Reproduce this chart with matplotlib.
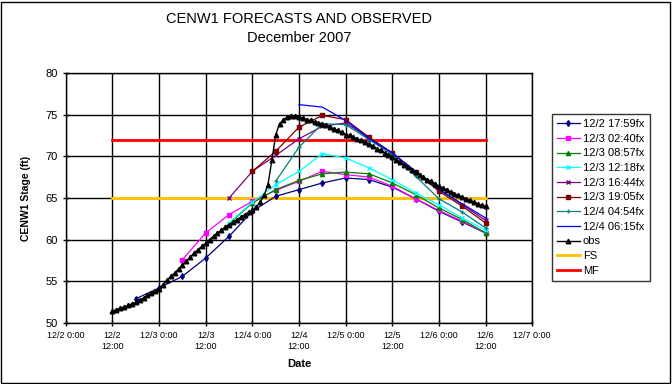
import matplotlib
matplotlib.use("Agg")
import matplotlib.pyplot as plt

plt.rcParams['font.family'] = ['Liberation Sans', 'DejaVu Sans']

# hours since 12/2 0:00
tick_hours = [0, 12, 24, 36, 48, 60, 72, 84, 96, 108, 120]
tick_labels = ["12/2 0:00", "12/2\n12:00", "12/3 0:00", "12/3\n12:00", "12/4 0:00",
               "12/4\n12:00", "12/5 0:00", "12/5\n12:00", "12/6 0:00", "12/6\n12:00", "12/7 0:00"]

# observed stage, hourly from 12/2 12:00 to 12/6 12:00
obs_start = 12
obs = [51.4, 51.6, 51.8, 51.9, 52.1, 52.3, 52.5, 52.7, 53.0, 53.3, 53.6, 53.8,
       54.1, 54.6, 55.1, 55.6, 56.0, 56.5, 56.9, 57.4, 57.9, 58.4, 58.8, 59.2,
       59.6, 60.0, 60.4, 60.8, 61.1, 61.5, 61.8, 62.1, 62.4, 62.7, 63.0, 63.3,
       63.5, 63.9, 64.5, 65.3, 66.6, 69.5, 72.6, 73.9, 74.4, 74.7, 74.8, 74.8,
       74.7, 74.6, 74.4, 74.3, 74.1, 74.0, 73.9, 73.7, 73.5, 73.3, 73.1, 72.9,
       72.6, 72.5, 72.3, 72.1, 71.9, 71.7, 71.5, 71.2, 70.9, 70.7, 70.4, 70.2,
       69.9, 69.6, 69.3, 69.0, 68.7, 68.4, 68.1, 67.8, 67.5, 67.2, 67.0, 66.7,
       66.4, 66.2, 66.0, 65.7, 65.5, 65.3, 65.1, 64.9, 64.7, 64.5, 64.3, 64.1,
       64.0]

# forecasts, 6-hourly; first value at the given hour
fx_names = ["12/2 17:59fx", "12/3 02:40fx", "12/3 08:57fx", "12/3 12:18fx",
            "12/3 16:44fx", "12/3 19:05fx", "12/4 04:54fx", "12/4 06:15fx"]
fx_start = [18, 30, 36, 42, 42, 48, 54, 60]
fx_vals = [
    [52.9, 54.2, 55.6, 57.8, 60.4, 63.4, 65.2, 66.0, 66.8, 67.4, 67.2, 66.3, 64.9, 63.4, 62.1, 60.8],
    [57.6, 60.8, 63.0, 64.6, 65.9, 67.0, 68.2, 67.8, 67.5, 66.4, 64.9, 63.5, 62.2, 60.8],
    [59.6, 61.9, 64.4, 66.0, 67.1, 67.9, 68.1, 67.9, 66.8, 65.4, 63.8, 62.4, 60.8],
    [62.0, 64.5, 66.6, 68.2, 70.3, 69.8, 68.6, 67.2, 65.6, 64.2, 62.6, 61.1],
    [65.0, 68.2, 70.1, 72.1, 73.6, 74.0, 72.2, 70.4, 68.1, 66.0, 64.2, 62.3],
    [68.2, 70.6, 73.5, 74.9, 74.4, 72.3, 70.4, 68.1, 65.8, 64.0, 62.0],
    [67.0, 71.1, 73.9, 73.8, 72.0, 70.2, 67.6, 64.9, 63.3, 61.4],
    [76.2, 75.9, 74.3, 72.1, 70.4, 68.2, 66.0, 64.3, 62.6],
]
fx_colors = ["#000080", "#FF00FF", "#008000", "#00FFFF", "#800080", "#800000", "#008080", "#0000FF"]
fx_markers = ["d", "s", "^", "x", "x", "s", "+", ""]

fs_level = 65
mf_level = 72
level_span = [12, 108]

fig = plt.figure(figsize=(6.72, 3.84), dpi=100)
ax = fig.add_axes([0.098, 0.159, 0.694, 0.651])

for name, start, vals, c, m in zip(fx_names, fx_start, fx_vals, fx_colors, fx_markers):
    hrs = [start + 6 * i for i in range(len(vals))]
    ax.plot(hrs, vals, color=c, marker=m, markersize=3, linewidth=0.9, label=name,
            markeredgewidth=1.0, zorder=3)

obs_hrs = [obs_start + i for i in range(len(obs))]
ax.plot(obs_hrs, obs, color="black", marker="^", markersize=3.3, linewidth=1.0, label="obs", zorder=4)

ax.plot(level_span, [fs_level, fs_level], color="#FFC000", linewidth=2, label="FS", zorder=2)
ax.plot(level_span, [mf_level, mf_level], color="#FF0000", linewidth=2, label="MF", zorder=2)

ax.set_xlim(0, 120)
ax.set_ylim(50, 80)
ax.set_xticks(tick_hours)
ax.set_xticklabels(tick_labels, fontsize=6.5)
ax.set_yticks([50, 55, 60, 65, 70, 75, 80])
ax.tick_params(axis="y", labelsize=8)
ax.tick_params(direction="inout", length=5, width=1)
ax.grid(True, color="black", linewidth=1)
ax.set_axisbelow(True)
for s in ax.spines.values():
    s.set_linewidth(1)

ax.set_xlabel("Date", fontsize=8, fontweight="bold", labelpad=6)
ax.set_ylabel("CENW1 Stage (ft)", fontsize=7.5, fontweight="bold", labelpad=10)
ax.set_title("CENW1 FORECASTS AND OBSERVED\nDecember 2007", fontsize=10.5, linespacing=1.45, pad=22)

leg = ax.legend(loc="upper left", bbox_to_anchor=(1.03, 0.86), fontsize=8, frameon=True,
                fancybox=False, edgecolor="black", handlelength=2.0, borderpad=0.5,
                labelspacing=0.42, handletextpad=0.3)
leg.get_frame().set_linewidth(1)

fig.patches.append(plt.Rectangle((0.002, 0.003), 0.995, 0.993, transform=fig.transFigure,
                                 fill=False, edgecolor="black", linewidth=1))

fig.savefig("out.png", dpi=100)
